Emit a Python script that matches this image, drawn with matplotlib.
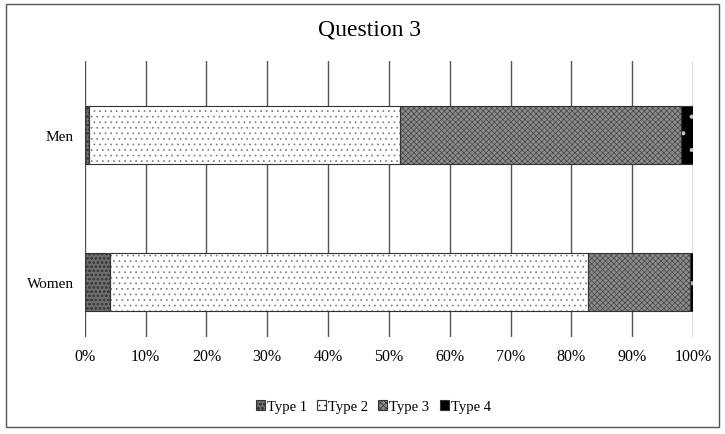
import numpy as np
import matplotlib
matplotlib.use("Agg")
from matplotlib import pyplot as plt
from matplotlib.patches import Rectangle

categories = ["Women", "Men"]
series = ["Type 1", "Type 2", "Type 3", "Type 4"]
type1 = [4.1, 0.7]
type2 = [78.6, 51.1]
type3 = [16.8, 46.2]
type4 = [0.5, 2.0]
ticks = [0, 10, 20, 30, 40, 50, 60, 70, 80, 90, 100]

faces = ["#6e6e6e", "white", "#8c8c8c", "black"]
hatchcols = ["#3a3a3a", "#7a7a7a", "#444444", "#cccccc"]
hatches = ["oooo", "...", "xxxxxx", "."]

plt.rcParams['font.family'] = ['Liberation Serif', 'DejaVu Serif']
plt.rcParams['hatch.linewidth'] = 0.5

fig = plt.figure(figsize=(7.25, 4.35), dpi=100)
fig.patches.append(Rectangle((0.008, 0.016), 0.984, 0.972, transform=fig.transFigure,
                             fill=False, edgecolor="#555555", linewidth=1.0))
ax = fig.add_axes([0.117, 0.223, 0.839, 0.634])

y = np.arange(len(categories))
left = np.zeros(len(categories))
handles = []
for vals, name, fc, hc, h in zip([type1, type2, type3, type4], series, faces, hatchcols, hatches):
    ax.barh(y, vals, left=left, height=0.40, color=fc, edgecolor=hc, hatch=h,
            linewidth=0, zorder=3)
    ax.barh(y, vals, left=left, height=0.40, fill=False, edgecolor="#333333",
            linewidth=0.8, zorder=4)
    handles.append(Rectangle((0, 0), 1, 1, facecolor=fc, edgecolor="#333333",
                             hatch=None if name == "Type 4" else h, linewidth=0.8, label=name))
    left = left + np.array(vals)

ax.set_xlim(0, 100)
ax.set_ylim(-0.374, 1.503)
ax.set_xticks(ticks)
ax.set_xticklabels([f"{t}%" for t in ticks], fontsize=11.5)
ax.set_yticks(y)
ax.set_yticklabels(categories, fontsize=11)
ax.tick_params(axis="x", length=0, pad=8)
ax.tick_params(axis="y", length=0, pad=8)
ax.xaxis.grid(True, color="#555555", linewidth=1.0, zorder=0)
for s in ax.spines.values():
    s.set_visible(False)
ax.set_axisbelow(True)

fig.text(0.51, 0.93, "Question 3", ha="center", va="center", fontsize=17)
fig.legend(handles=handles, loc="center", bbox_to_anchor=(0.515, 0.063), ncol=4,
           frameon=False, fontsize=10.5, handlelength=0.6, handleheight=0.6,
           handletextpad=0.15, columnspacing=0.7)

fig.savefig("out.png", dpi=100)
